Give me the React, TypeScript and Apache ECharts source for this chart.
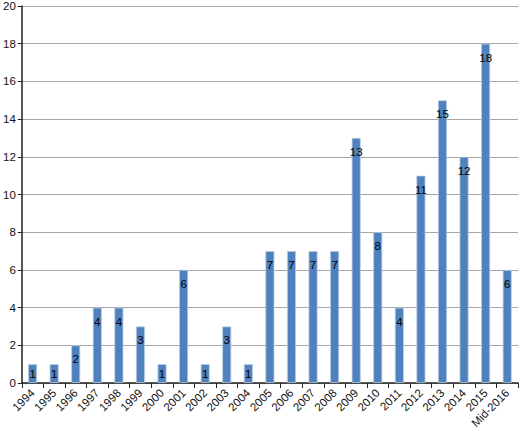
import React, { useEffect, useRef } from "react";
import * as echarts from "echarts";

const categories = ["1994","1995","1996","1997","1998","1999","2000","2001","2002","2003","2004","2005","2006","2007","2008","2009","2010","2011","2012","2013","2014","2015","Mid-2016"];
const values = [1,1,2,4,4,3,1,6,1,3,1,7,7,7,7,13,8,4,11,15,12,18,6];
const yTicks = { min: 0, max: 20, interval: 2 };

export default function App() {
  const ref = useRef<HTMLDivElement>(null);
  useEffect(() => {
    const chart = echarts.init(ref.current!, null, { renderer: "svg" });
    chart.setOption({
      animation: false,
      grid: { left: 21, right: 2, top: 6, bottom: 49, containLabel: false },
      xAxis: {
        type: "category",
        data: categories,
        boundaryGap: true,
        axisLine: { lineStyle: { color: "#222", width: 1.5 } },
        axisTick: { show: true, length: 5, alignWithLabel: false, lineStyle: { color: "#222" } },
        axisLabel: {
          interval: 0,
          rotate: 45,
          margin: 8,
          color: "#111",
          fontSize: 11.5,
          fontFamily: "Liberation Sans, Arial, sans-serif",
        },
      },
      yAxis: {
        type: "value",
        min: yTicks.min,
        max: yTicks.max,
        interval: yTicks.interval,
        axisLine: { show: true, lineStyle: { color: "#222", width: 1.5 } },
        axisTick: { show: true, length: 4, lineStyle: { color: "#222" } },
        axisLabel: {
          margin: 6,
          color: "#111",
          fontSize: 11.5,
          fontFamily: "Liberation Sans, Arial, sans-serif",
        },
        splitLine: { show: true, lineStyle: { color: "#a6a6a6", width: 1 } },
      },
      series: [
        {
          type: "bar",
          barWidth: 9,
          data: values.map((v) => ({
            value: v,
            label: { position: v <= 1 ? "inside" : "insideTop", distance: 8 },
          })),
          itemStyle: { color: "#4f81bd", borderColor: "#b8cce4", borderWidth: 0.8 },
          label: {
            show: true,
            color: "#000",
            fontSize: 11.5,
            fontFamily: "Liberation Sans, Arial, sans-serif",
          },
        },
      ],
    });
    return () => chart.dispose();
  }, []);
  return <div ref={ref} style={{ width: 520, height: 432, position: "absolute", left: 0, top: 0 }} />;
}
